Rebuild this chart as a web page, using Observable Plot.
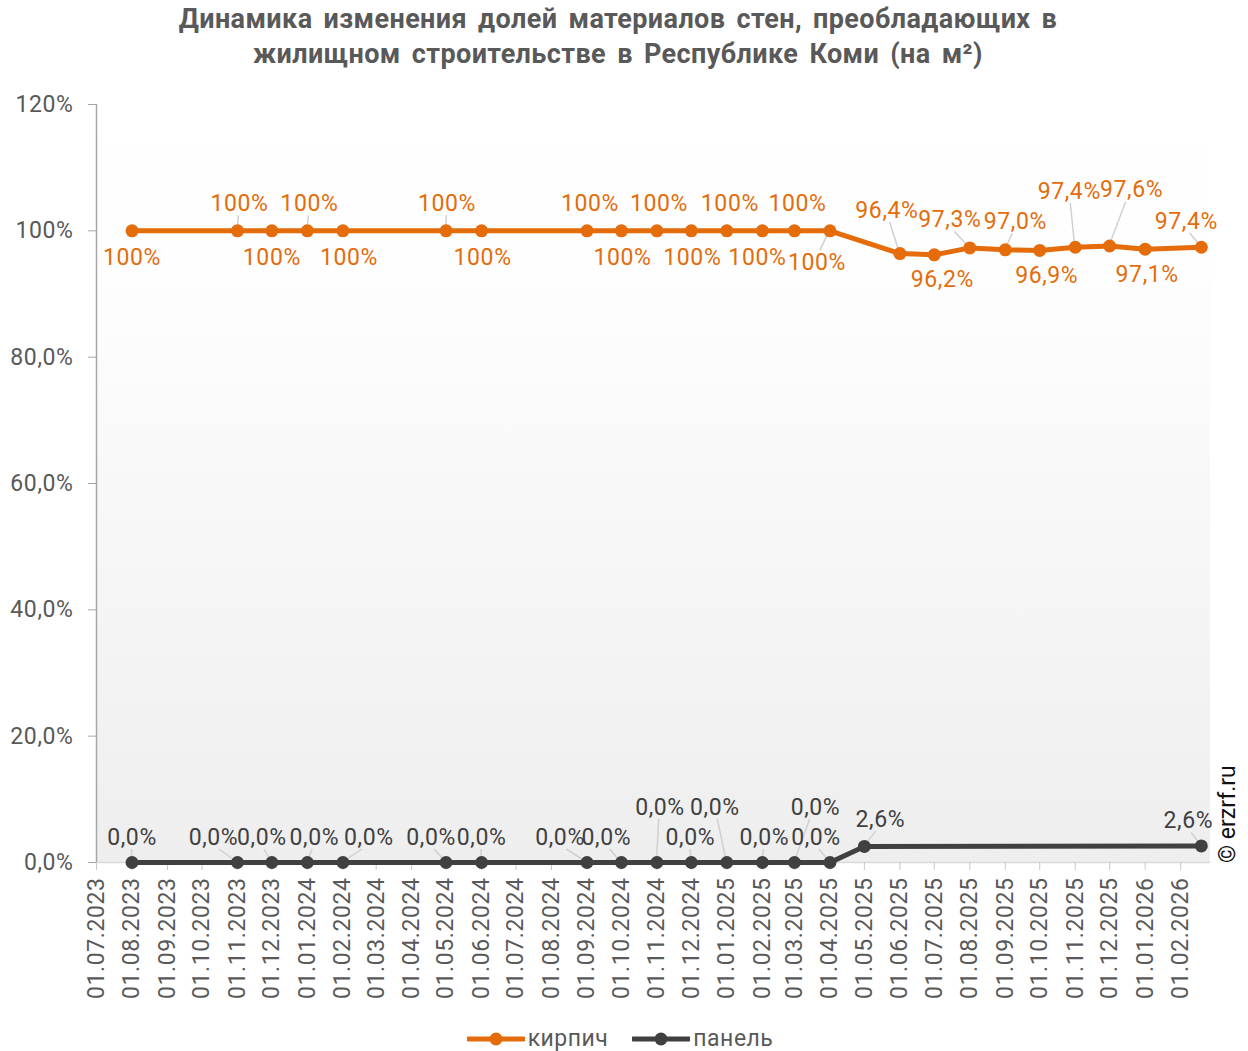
<!DOCTYPE html>
<html><head><meta charset="utf-8">
<script src="https://cdn.jsdelivr.net/npm/d3@7"></script>
<script src="https://cdn.jsdelivr.net/npm/@observablehq/plot@0.6"></script>
<style>
body{margin:0;background:#fff;font-family:Roboto,"Noto Sans",sans-serif;}
#wrap{position:relative;width:1248px;height:1051px;overflow:hidden;}
#chart{position:absolute;left:0;top:0;}
#title{position:absolute;top:2px;left:0;width:1236px;text-align:center;font-weight:bold;font-size:27px;line-height:35px;letter-spacing:0.4px;word-spacing:4px;color:#595959;}
#legend{position:absolute;top:1025px;left:0;width:1240px;display:flex;justify-content:center;align-items:center;font-size:23px;letter-spacing:0.5px;color:#595959;}
#legend .item{display:flex;align-items:center;margin:0 12px;}
#copy{position:absolute;left:1216px;top:863px;transform-origin:0 0;transform:rotate(-90deg);font-size:23px;color:#111;white-space:nowrap;line-height:1;}
</style></head>
<body>
<div id="wrap">
  <div id="chart"></div>
  <div id="title">Динамика изменения долей материалов стен, преобладающих в<br>жилищном строительстве в Республике Коми (на м²)</div>
  <div id="legend"></div>
  <div id="copy">© erzrf.ru</div>
</div>
<script>
// ---- data ----
const seriesNames = ["кирпич", "панель"];
const brickDates = ["2023-08-01","2023-11-01","2023-12-01","2024-01-01","2024-02-01","2024-05-01","2024-06-01","2024-09-01","2024-10-01","2024-11-01","2024-12-01","2025-01-01","2025-02-01","2025-03-01","2025-04-01","2025-06-01","2025-07-01","2025-08-01","2025-09-01","2025-10-01","2025-11-01","2025-12-01","2026-01-01","2026-02-19"];
const brickValues = [100,100,100,100,100,100,100,100,100,100,100,100,100,100,100,96.4,96.2,97.3,97.0,96.9,97.4,97.6,97.1,97.4];
const panelDates = ["2023-08-01","2023-11-01","2023-12-01","2024-01-01","2024-02-01","2024-05-01","2024-06-01","2024-09-01","2024-10-01","2024-11-01","2024-12-01","2025-01-01","2025-02-01","2025-03-01","2025-04-01","2025-05-01","2026-02-19"];
const panelValues = [0,0,0,0,0,0,0,0,0,0,0,0,0,0,0,2.55,2.63];
const xTickLabels = ["01.07.2023","01.08.2023","01.09.2023","01.10.2023","01.11.2023","01.12.2023","01.01.2024","01.02.2024","01.03.2024","01.04.2024","01.05.2024","01.06.2024","01.07.2024","01.08.2024","01.09.2024","01.10.2024","01.11.2024","01.12.2024","01.01.2025","01.02.2025","01.03.2025","01.04.2025","01.05.2025","01.06.2025","01.07.2025","01.08.2025","01.09.2025","01.10.2025","01.11.2025","01.12.2025","01.01.2026","01.02.2026"];
const yTicks = [0,20,40,60,80,100,120];
const yTickLabels = ["0,0%","20,0%","40,0%","60,0%","80,0%","100%","120%"];

// ---- label placement (pixel offsets, leader flag) ----
const brickLabelPos = [[0,27,0],[2,-27,1],[0,27,0],[2,-27,1],[6,27,0],[1,-27,1],[1,27,0],[3,-27,0],[1,27,0],[2,-27,0],[1,27,0],[3,-27,0],[-5,27,0],[3,-27,0],[-13,32,1],[-13,-43,1],[8,25,0],[-20,-28,1],[10,-28,1],[7,25,0],[-6,-56,1],[22,-56,1],[2,25,0],[-15,-26,1]];
const panelLabelPos = [[0,-25,1],[-24,-25,1],[-10,-25,1],[7,-25,1],[26,-25,1],[-15,-25,1],[0,-25,1],[-27,-25,1],[-15,-25,1],[3,-55,1],[-1,-25,1],[-12,-55,1],[2,-25,1],[21,-55,1],[-14,-25,1],[16,-27,1],[-13,-25,1]];

const COLORS = ["#E46C0A", "#404040"];
const parse = d3.utcParse("%Y-%m-%d");
const parseTick = d3.utcParse("%d.%m.%Y");
const xTicks = xTickLabels.map(parseTick);

function fmtVal(v, isBrick) {
  if (isBrick && Math.round(v * 10) / 10 === 100) return "100%";
  return (Math.round(v * 10) / 10).toFixed(1).replace(".", ",") + "%";
}

const brick = brickDates.map((d, i) => ({date: parse(d), value: brickValues[i], label: fmtVal(brickValues[i], true), dx: brickLabelPos[i][0], dy: brickLabelPos[i][1], leader: brickLabelPos[i][2]}));
const panel = panelDates.map((d, i) => ({date: parse(d), value: panelValues[i], label: fmtVal(panelValues[i], false), dx: panelLabelPos[i][0], dy: panelLabelPos[i][1], leader: panelLabelPos[i][2]}));

// background gradient mark
function backgroundMark(index, scales, values, dim) {
  const ns = "http://www.w3.org/2000/svg";
  const g = document.createElementNS(ns, "g");
  const defs = document.createElementNS(ns, "defs");
  defs.innerHTML = '<linearGradient id="bgGrad" x1="0" y1="0" x2="0" y2="1"><stop offset="0" stop-color="#ffffff"/><stop offset="0.22" stop-color="#fefefe"/><stop offset="1" stop-color="#eeeeee"/></linearGradient>';
  g.appendChild(defs);
  const r = document.createElementNS(ns, "rect");
  r.setAttribute("x", dim.marginLeft);
  r.setAttribute("y", dim.marginTop);
  r.setAttribute("width", dim.width - dim.marginLeft - dim.marginRight);
  r.setAttribute("height", dim.height - dim.marginTop - dim.marginBottom);
  r.setAttribute("fill", "url(#bgGrad)");
  g.appendChild(r);
  return g;
}

// leader lines from point to its moved label
function leaderMark(data) {
  return function(index, scales) {
    const ns = "http://www.w3.org/2000/svg";
    const g = document.createElementNS(ns, "g");
    for (const d of data) {
      if (!d.leader) continue;
      const x = scales.x(d.date), y = scales.y(d.value);
      const ex = x + d.dx * 0.75;
      const ey = y + d.dy + (d.dy < 0 ? 12 : -12);
      const l = document.createElementNS(ns, "line");
      l.setAttribute("x1", x); l.setAttribute("y1", y);
      l.setAttribute("x2", ex); l.setAttribute("y2", ey);
      l.setAttribute("stroke", "#d0d0d0");
      l.setAttribute("stroke-width", 1.5);
      g.appendChild(l);
    }
    return g;
  };
}

const labelMarks = (data, color) => data.map(d => Plot.text([d], {x: "date", y: "value", text: "label", dx: d.dx, dy: d.dy, fill: color, fontSize: 23, stroke: null, style: {letterSpacing: "0.6px"}}));

const chart = Plot.plot({
  width: 1248, height: 1010,
  marginLeft: 96, marginRight: 38, marginTop: 104, marginBottom: 148,
  style: {fontFamily: "Roboto, 'Noto Sans', sans-serif", fontSize: "23px", color: "#595959", background: "transparent", overflow: "visible", letterSpacing: "0.6px"},
  x: {type: "utc", domain: [parse("2023-07-01"), parse("2026-02-27")]},
  y: {domain: [0, 120]},
  marks: [
    backgroundMark,
    Plot.ruleY([0], {stroke: "#d9d9d9", strokeWidth: 1.5}),
    Plot.ruleX([parse("2023-07-01")], {stroke: "#a6a6a6", strokeWidth: 1.5}),
    Plot.axisX({ticks: xTicks, tickFormat: (d) => xTickLabels[xTicks.findIndex(t => +t === +d)], tickRotate: -90, tickSize: 8, tickPadding: 7, stroke: "#c8c8c8", fill: "#595959", label: null, fontSize: 23}),
    Plot.axisY({ticks: yTicks, tickFormat: (d) => yTickLabels[yTicks.indexOf(d)], tickSize: 8, tickPadding: 15, stroke: "#a6a6a6", fill: "#595959", label: null, fontSize: 23}),
    leaderMark(brick),
    leaderMark(panel),
    Plot.line(panel, {x: "date", y: "value", stroke: COLORS[1], strokeWidth: 5}),
    Plot.line(brick, {x: "date", y: "value", stroke: COLORS[0], strokeWidth: 5}),
    Plot.dot(panel, {x: "date", y: "value", r: 6.5, fill: COLORS[1]}),
    Plot.dot(brick, {x: "date", y: "value", r: 6.5, fill: COLORS[0]}),
    ...labelMarks(brick, COLORS[0]),
    ...labelMarks(panel, COLORS[1])
  ]
});
document.getElementById("chart").appendChild(chart);

// legend
const legend = document.getElementById("legend");
seriesNames.forEach((name, i) => {
  const item = document.createElement("div");
  item.className = "item";
  item.innerHTML = `<svg width="58" height="14" style="margin-right:3px"><line x1="1" y1="7" x2="57" y2="7" stroke="${COLORS[i]}" stroke-width="5" stroke-linecap="round"/><circle cx="29" cy="7" r="6.5" fill="${COLORS[i]}"/></svg><span>${name}</span>`;
  legend.appendChild(item);
});
</script>
</body></html>
